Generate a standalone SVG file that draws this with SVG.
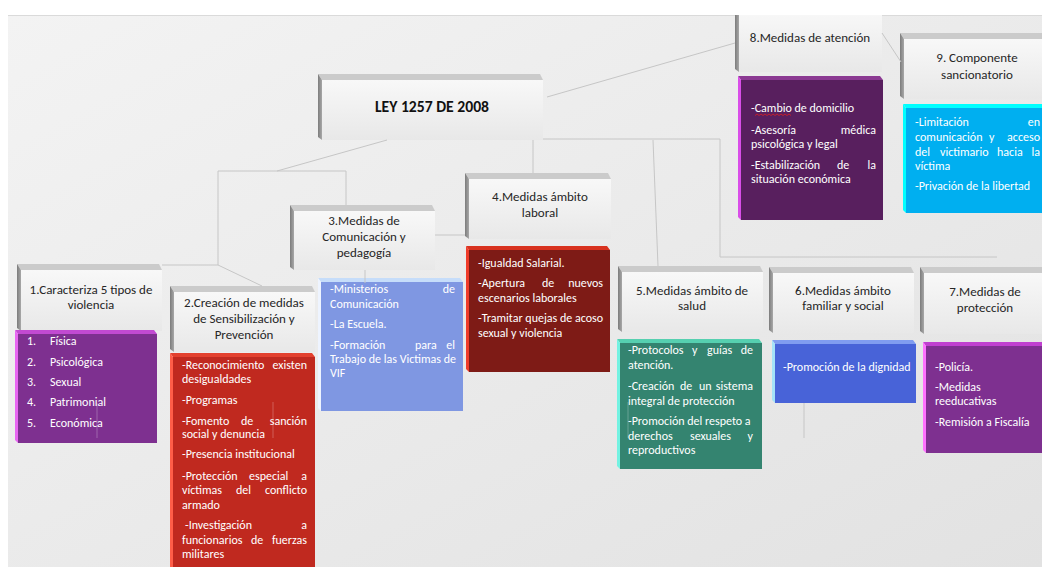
<svg xmlns="http://www.w3.org/2000/svg" width="1042" height="567" viewBox="0 0 1042 567">
  <defs>
    <linearGradient id="bg" x1="0" y1="0" x2="1" y2="1">
      <stop offset="0" stop-color="#f3f3f3"/>
      <stop offset="1" stop-color="#e2e2e2"/>
    </linearGradient>
    <linearGradient id="face" x1="0" y1="0" x2="0" y2="1">
      <stop offset="0" stop-color="#f8f8f8"/>
      <stop offset="1" stop-color="#e8e8e8"/>
    </linearGradient>
    <linearGradient id="side" x1="0" y1="0" x2="1" y2="0">
      <stop offset="0" stop-color="#7c7c7c"/>
      <stop offset="1" stop-color="#a8a8a8"/>
    </linearGradient>
    <clipPath id="page">
      <rect x="8" y="15" width="1034" height="552"/>
    </clipPath>
    <style>
      .hf { fill: url(#face); }
      .ht { fill: #cbcbcb; }
      .hs { fill: url(#side); }
      .h { font-family: Carlito, Lato, "Liberation Sans", sans-serif; font-size: 13px; fill: #262626; text-anchor: middle; }
      .b { font-family: Carlito, Lato, "Liberation Sans", sans-serif; font-size: 12px; fill: #ffffff; }
      .e { text-anchor: end; }
      .con { fill: none; stroke: #c6c6c6; stroke-width: 1; }
      .thru { fill: none; stroke: #ffffff; stroke-opacity: 0.25; stroke-width: 1; }
    </style>
  </defs>

  <rect width="1042" height="567" fill="#ffffff"/>
  <rect x="8" y="15" width="1034" height="552" fill="url(#bg)"/>
  <line x1="8" y1="15.5" x2="1042" y2="15.5" stroke="#dadada"/>

  <g clip-path="url(#page)">
    <!-- root -->
    <g id="ley">
      <rect class="hf" x="322" y="80" width="221" height="60"/>
      <polygon class="ht" points="318,74 540,74 543,80 322,80"/>
      <polygon class="hs" points="318,74 322,80 322,140 318,137"/>
      <text x="432" y="112" font-family="Carlito, Lato, 'Liberation Sans', sans-serif" font-size="16" font-weight="bold" fill="#111" text-anchor="middle" textLength="114" lengthAdjust="spacingAndGlyphs">LEY 1257 DE 2008</text>
    </g>

    <!-- 1 -->
    <g id="n1">
      <rect class="hf" x="21" y="270" width="141" height="61"/>
      <polygon class="ht" points="17,264 159,264 162,270 21,270"/>
      <polygon class="hs" points="17,264 21,270 21,331 17,328"/>
      <text class="h" x="91" y="294">1.Caracteriza 5 tipos de</text>
      <text class="h" x="91" y="309">violencia</text>
      <rect x="18" y="334" width="139" height="109" fill="#7e3090"/>
      <polygon points="15,330 154,330 157,334 18,334" fill="#c24ad2"/>
      <polygon points="15,330 18,334 18,443 15,440" fill="#e866f2"/>
      <g class="b">
        <text x="27" y="345">1.</text><text x="50" y="345">Física</text>
        <text x="27" y="366">2.</text><text x="50" y="366">Psicológica</text>
        <text x="27" y="386">3.</text><text x="50" y="386">Sexual</text>
        <text x="27" y="406">4.</text><text x="50" y="406">Patrimonial</text>
        <text x="27" y="427">5.</text><text x="50" y="427">Económica</text>
      </g>
    </g>

    <!-- 2 -->
    <g id="n2">
      <rect class="hf" x="174" y="292" width="141" height="60"/>
      <polygon class="ht" points="170,286 312,286 315,292 174,292"/>
      <polygon class="hs" points="170,286 174,292 174,352 170,349"/>
      <text class="h" x="244" y="307">2.Creación de medidas</text>
      <text class="h" x="244" y="323">de Sensibilización y</text>
      <text class="h" x="244" y="339">Prevención</text>
      <rect x="173" y="357" width="142" height="215" fill="#c0291f"/>
      <polygon points="170,353 312,353 315,357 173,357" fill="#e3402e"/>
      <polygon points="170,353 173,357 173,572 170,572" fill="#ff5d48"/>
      <g class="b">
        <text y="369"><tspan x="182">-Reconocimiento</tspan><tspan class="e" x="307">existen</tspan></text>
        <text x="182" y="383">desigualdades</text>
        <text x="182" y="404">-Programas</text>
        <text y="425"><tspan x="182">-Fomento</tspan><tspan x="241">de</tspan><tspan class="e" x="307">sanción</tspan></text>
        <text x="182" y="438">social y denuncia</text>
        <text x="182" y="458">-Presencia institucional</text>
        <text y="480"><tspan x="182">-Protección</tspan><tspan x="249">especial</tspan><tspan class="e" x="307">a</tspan></text>
        <text y="494"><tspan x="182">víctimas</tspan><tspan x="236">del</tspan><tspan class="e" x="307">conflicto</tspan></text>
        <text x="182" y="509">armado</text>
        <text y="529"><tspan x="185">-Investigación</tspan><tspan class="e" x="307">a</tspan></text>
        <text y="544"><tspan x="182">funcionarios</tspan><tspan x="251">de</tspan><tspan class="e" x="307">fuerzas</tspan></text>
        <text x="182" y="558">militares</text>
      </g>
    </g>

    <!-- 3 -->
    <g id="n3">
      <rect class="hf" x="294" y="211" width="141" height="59"/>
      <polygon class="ht" points="290,205 432,205 435,211 294,211"/>
      <polygon class="hs" points="290,205 294,211 294,270 290,267"/>
      <text class="h" x="364" y="225">3.Medidas de</text>
      <text class="h" x="364" y="241">Comunicación y</text>
      <text class="h" x="364" y="257">pedagogía</text>
      <rect x="321" y="282" width="142" height="129" fill="#7f97e2"/>
      <polygon points="318,278 460,278 463,282 321,282" fill="#c6ddfa"/>
      <polygon points="318,278 321,282 321,411 318,408" fill="#eef4ff"/>
      <g class="b">
        <text y="293"><tspan x="330">-Ministerios</tspan><tspan class="e" x="455">de</tspan></text>
        <text x="330" y="308">Comunicación</text>
        <text x="330" y="328">-La Escuela.</text>
        <text y="349"><tspan x="330">-Formación</tspan><tspan x="415">para</tspan><tspan class="e" x="455">el</tspan></text>
        <text x="330" y="363">Trabajo de las Victimas de</text>
        <text x="330" y="377">VIF</text>
      </g>
    </g>

    <!-- 4 -->
    <g id="n4">
      <rect class="hf" x="469" y="179" width="142" height="60"/>
      <polygon class="ht" points="465,173 608,173 611,179 469,179"/>
      <polygon class="hs" points="465,173 469,179 469,239 465,236"/>
      <text class="h" x="540" y="201">4.Medidas ámbito</text>
      <text class="h" x="540" y="217">laboral</text>
      <rect x="469" y="250" width="141" height="122" fill="#7e1b16"/>
      <polygon points="466,246 607,246 610,250 469,250" fill="#d8321f"/>
      <polygon points="466,246 469,250 469,372 466,369" fill="#f03c2a"/>
      <g class="b">
        <text x="478" y="267">-Igualdad Salarial.</text>
        <text y="287"><tspan x="478">-Apertura</tspan><tspan x="542">de</tspan><tspan class="e" x="603">nuevos</tspan></text>
        <text x="478" y="302">escenarios laborales</text>
        <text x="478" y="322">-Tramitar quejas de acoso</text>
        <text x="478" y="337">sexual y violencia</text>
      </g>
    </g>

    <!-- 5 -->
    <g id="n5">
      <rect class="hf" x="622" y="272" width="141" height="60"/>
      <polygon class="ht" points="618,266 760,266 763,272 622,272"/>
      <polygon class="hs" points="618,266 622,272 622,332 618,329"/>
      <text class="h" x="692" y="295">5.Medidas ámbito de</text>
      <text class="h" x="692" y="310">salud</text>
      <rect x="620" y="343" width="142" height="126" fill="#348470"/>
      <polygon points="617,339 759,339 762,343 620,343" fill="#56d0b0"/>
      <polygon points="617,339 620,343 620,469 617,466" fill="#74f2e2"/>
      <g class="b">
        <text y="354"><tspan x="628">-Protocolos</tspan><tspan x="692">y</tspan><tspan x="707">guías</tspan><tspan class="e" x="753">de</tspan></text>
        <text x="628" y="369">atención.</text>
        <text y="390"><tspan x="628">-Creación</tspan><tspan x="680">de</tspan><tspan x="699">un</tspan><tspan class="e" x="753">sistema</tspan></text>
        <text x="628" y="405">integral de protección</text>
        <text x="628" y="425">-Promoción del respeto a</text>
        <text y="440"><tspan x="628">derechos</tspan><tspan x="690">sexuales</tspan><tspan class="e" x="753">y</tspan></text>
        <text x="628" y="454">reproductivos</text>
      </g>
    </g>

    <!-- 6 -->
    <g id="n6">
      <rect class="hf" x="773" y="273" width="141" height="60"/>
      <polygon class="ht" points="769,267 911,267 914,273 773,273"/>
      <polygon class="hs" points="769,267 773,273 773,333 769,330"/>
      <text class="h" x="843" y="295">6.Medidas ámbito</text>
      <text class="h" x="843" y="310">familiar y social</text>
      <rect x="775" y="344" width="141" height="59" fill="#4863d8"/>
      <polygon points="772,340 913,340 916,344 775,344" fill="#809cf0"/>
      <polygon points="772,340 775,344 775,403 772,400" fill="#a4e2f8"/>
      <text class="b" x="783" y="371">-Promoción de la dignidad</text>
    </g>

    <!-- 7 -->
    <g id="n7">
      <rect class="hf" x="924" y="273" width="130" height="61"/>
      <polygon class="ht" points="920,267 1054,267 1054,273 924,273"/>
      <polygon class="hs" points="920,267 924,273 924,334 920,331"/>
      <text class="h" x="985" y="296">7.Medidas de</text>
      <text class="h" x="985" y="312">protección</text>
      <rect x="926" y="346" width="130" height="107" fill="#7e3090"/>
      <polygon points="923,342 1056,342 1056,346 926,346" fill="#c040d0"/>
      <polygon points="923,342 926,346 926,453 923,450" fill="#ff72ff"/>
      <g class="b">
        <text x="935" y="371">-Policía.</text>
        <text x="935" y="391">-Medidas</text>
        <text x="935" y="405">reeducativas</text>
        <text x="935" y="426">-Remisión a Fiscalía</text>
      </g>
    </g>

    <!-- 8 -->
    <g id="n8">
      <rect class="hf" x="739" y="11" width="143" height="61"/>
      <polygon class="hs" points="735,5 739,11 739,72 735,69"/>
      <text class="h" x="810" y="42">8.Medidas de atención</text>
      <rect x="741" y="80" width="142" height="140" fill="#581f5e"/>
      <polygon points="738,76 880,76 883,80 741,80" fill="#8b3a92"/>
      <polygon points="738,76 741,80 741,220 738,217" fill="#d94ee8"/>
      <g class="b">
        <text x="751" y="112">-Cambio de domicilio</text>
        <path d="M755,115.5 l2,-1.5 2,1.5 2,-1.5 2,1.5 2,-1.5 2,1.5 2,-1.5 2,1.5 2,-1.5 2,1.5 2,-1.5 2,1.5 2,-1.5 2,1.5 2,-1.5 2,1.5 2,-1.5 2,1.5" fill="none" stroke="#e02020" stroke-width="0.8"/>
        <text y="134"><tspan x="751">-Asesoría</tspan><tspan class="e" x="876">médica</tspan></text>
        <text x="751" y="148">psicológica y legal</text>
        <text y="169"><tspan x="751">-Estabilización</tspan><tspan x="837">de</tspan><tspan class="e" x="876">la</tspan></text>
        <text x="751" y="183">situación económica</text>
      </g>
    </g>

    <!-- 9 -->
    <g id="n9">
      <rect class="hf" x="904" y="39" width="146" height="60"/>
      <polygon class="ht" points="900,33 1050,33 1050,39 904,39"/>
      <polygon class="hs" points="900,33 904,39 904,99 900,96"/>
      <text class="h" x="977" y="62" font-size="14">9. Componente</text>
      <text class="h" x="977" y="79" font-size="14">sancionatorio</text>
      <rect x="906" y="108" width="140" height="105" fill="#00aff0"/>
      <polygon points="903,104 1046,104 1046,108 906,108" fill="#00ffff"/>
      <polygon points="903,104 906,108 906,213 903,210" fill="#00ffff"/>
      <g class="b">
        <text y="126"><tspan x="915">-Limitación</tspan><tspan class="e" x="1040">en</tspan></text>
        <text y="141"><tspan x="915">comunicación</tspan><tspan x="989">y</tspan><tspan class="e" x="1040">acceso</tspan></text>
        <text y="156"><tspan x="915">del</tspan><tspan x="940">victimario</tspan><tspan x="997">hacia</tspan><tspan class="e" x="1040">la</tspan></text>
        <text x="915" y="170">víctima</text>
        <text x="915" y="190">-Privación de la libertad</text>
      </g>
    </g>

    <!-- links between boxes -->
    <g id="connectors">
      <line class="con" x1="387" y1="140" x2="277" y2="171"/>
      <polyline class="con" points="218,265 218,171 346,171 346,205"/>
      <line class="con" x1="162" y1="265" x2="218" y2="265"/>
      <line class="con" x1="218" y1="265" x2="262" y2="286"/>
      <line class="con" x1="435" y1="235" x2="465" y2="235"/>
      <line class="con" x1="365" y1="270" x2="365" y2="283"/>
      <line class="con" x1="547" y1="97" x2="735" y2="43"/>
      <line class="con" x1="882" y1="33" x2="901" y2="62"/>
      <polyline class="con" points="543,139 720,139 720,257 997,257"/>
      <line class="con" x1="533" y1="140" x2="533" y2="173"/>
      <line class="con" x1="653" y1="140" x2="658" y2="266"/>
      <line class="con" x1="804" y1="403" x2="804" y2="438"/>
      <line class="thru" x1="97" y1="403" x2="97" y2="438"/>
      <line class="thru" x1="273" y1="402" x2="273" y2="438"/>
      <line class="thru" x1="628" y1="402" x2="628" y2="438"/>
    </g>
  </g>
</svg>
